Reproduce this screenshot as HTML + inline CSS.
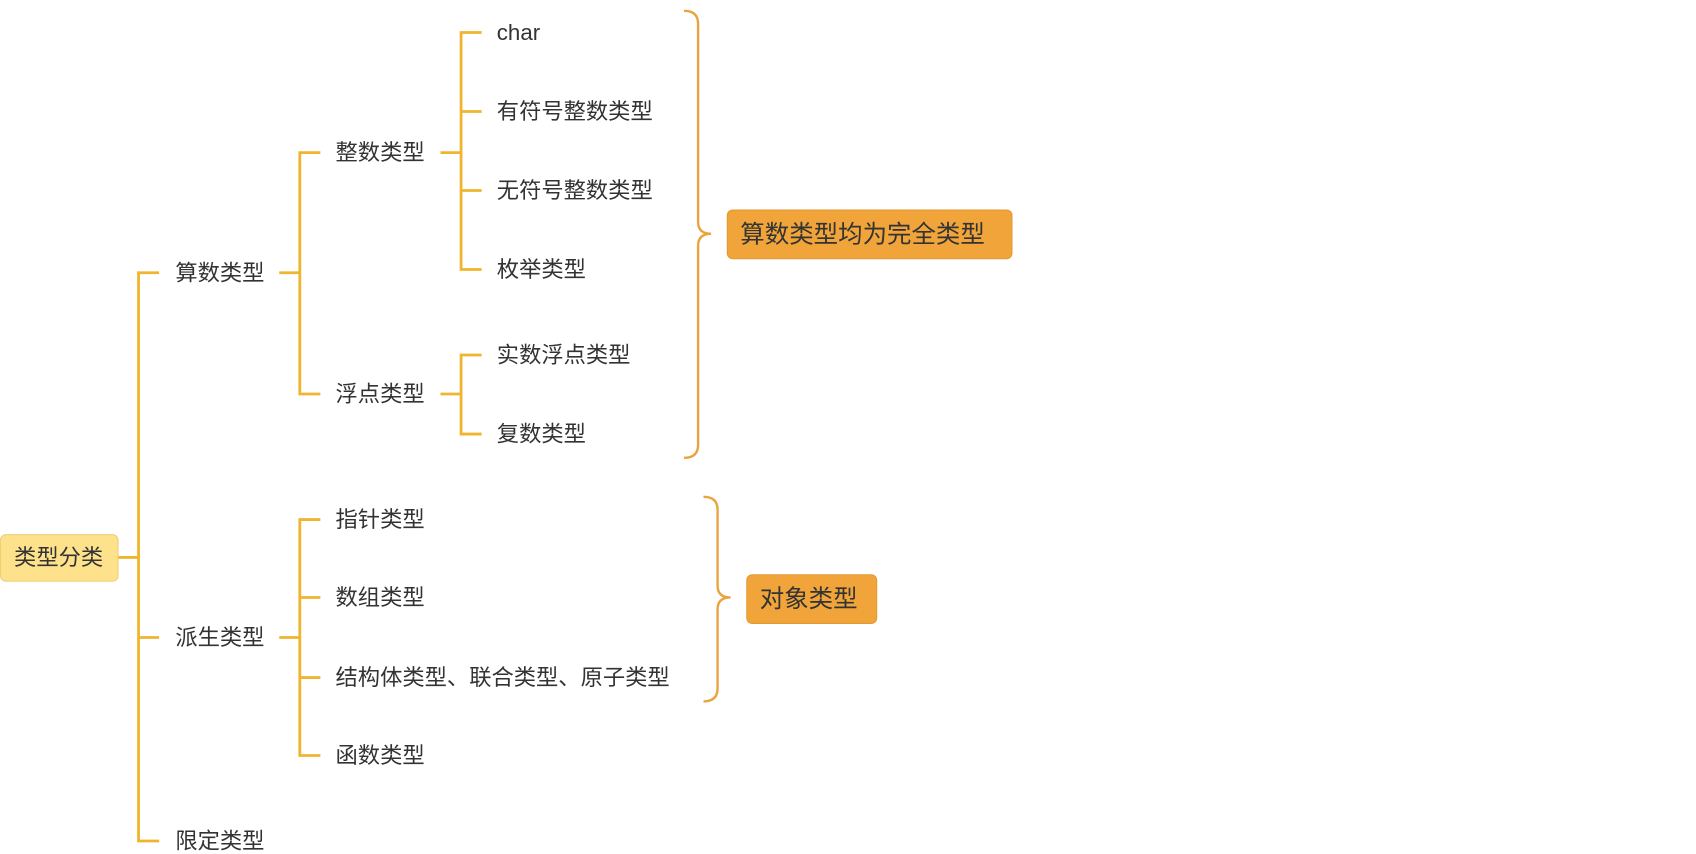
<!DOCTYPE html>
<html><head><meta charset="utf-8"><style>
html,body{margin:0;padding:0;background:#fff;}
svg{display:block;}
text{font-family:"Liberation Sans","Noto Sans CJK SC",sans-serif;font-size:20.6px;fill:#333;}
</style></head><body>
<svg width="1696" height="854" viewBox="0 0 1567 789" preserveAspectRatio="none" xmlns="http://www.w3.org/2000/svg">
<g stroke="#efb52f" stroke-width="2.6" fill="none">
<path d="M109 515 H128"/>
<path d="M147 252 H128 V777 H147"/>
<path d="M128 589 H147"/>
<path d="M258 252 H277"/>
<path d="M296 141 H277 V364 H296"/>
<path d="M407 141 H426"/>
<path d="M445 30 H426 V249 H445"/>
<path d="M426 103 H445 M426 176 H445"/>
<path d="M407 364 H426"/>
<path d="M445 328 H426 V401 H445"/>
<path d="M258 589 H277"/>
<path d="M296 480 H277 V698 H296"/>
<path d="M277 552 H296 M277 626 H296"/>
</g>
<g stroke="#e9a440" stroke-width="2.2" fill="none">
<path d="M632 10 Q645 10 645 22 V205 Q645 216 657 216 Q645 216 645 227 V411 Q645 423 632 423"/>
<path d="M650 459 Q663 459 663 471 V541 Q663 552 675 552 Q663 552 663 563 V636 Q663 648 650 648"/>
</g>
<rect x="0.5" y="494" width="108.5" height="43" rx="5" fill="#fde18b" stroke="#f1cf78"/>
<text x="13" y="522">类型分类</text>
<text x="162" y="259">算数类型</text>
<text x="162" y="596">派生类型</text>
<text x="162" y="784">限定类型</text>
<text x="310" y="148">整数类型</text>
<text x="310" y="371">浮点类型</text>
<text x="459" y="37">char</text>
<text x="459" y="110">有符号整数类型</text>
<text x="459" y="183">无符号整数类型</text>
<text x="459" y="256">枚举类型</text>
<text x="459" y="335">实数浮点类型</text>
<text x="459" y="408">复数类型</text>
<text x="310" y="487">指针类型</text>
<text x="310" y="559">数组类型</text>
<text x="310" y="633">结构体类型、联合类型、原子类型</text>
<text x="310" y="705">函数类型</text>
<rect x="672" y="194" width="263" height="45" rx="5" fill="#f0a43a" stroke="#e39a33"/>
<text x="684" y="224" style="font-size:22.6px">算数类型均为完全类型</text>
<rect x="690" y="531" width="120" height="45" rx="5" fill="#f0a43a" stroke="#e39a33"/>
<text x="702" y="561" style="font-size:22.6px">对象类型</text>
</svg>
</body></html>
